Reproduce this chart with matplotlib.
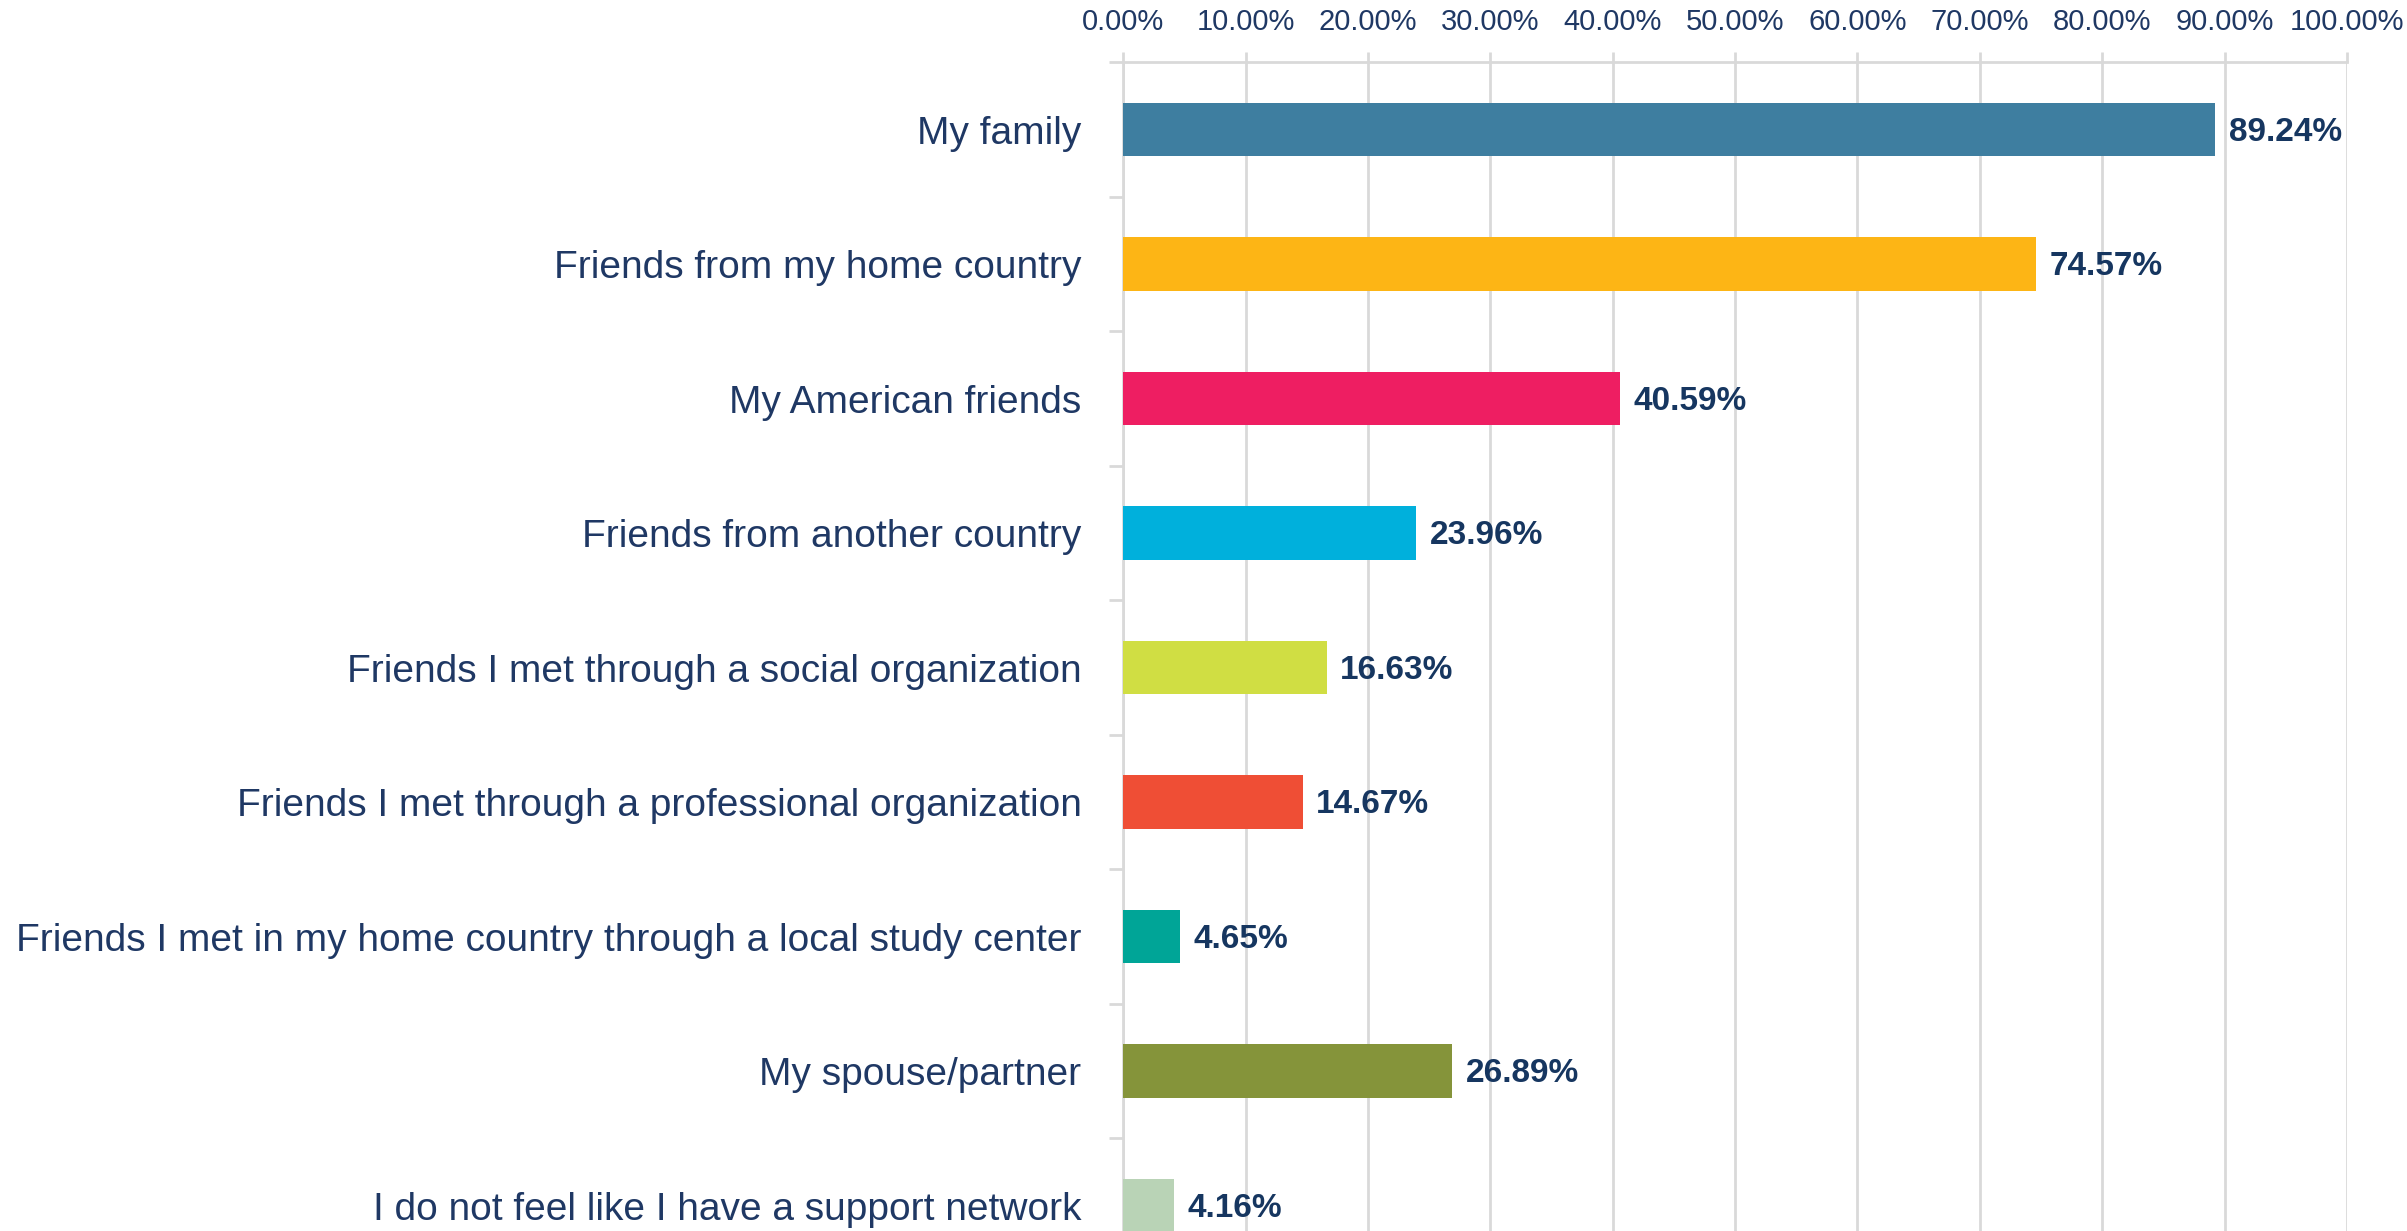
import matplotlib
matplotlib.use("Agg")
import matplotlib.pyplot as plt
from matplotlib.ticker import FuncFormatter, FixedLocator

plt.rcParams['font.family'] = ['Liberation Sans Narrow', 'Liberation Sans', 'DejaVu Sans']

# data, top to bottom as in the chart
categories = [
    "My family",
    "Friends from my home country",
    "My American friends",
    "Friends from another country",
    "Friends I met through a social organization",
    "Friends I met through a professional organization",
    "Friends I met in my home country through a local study center",
    "My spouse/partner",
    "I do not feel like I have a support network",
]
values = [89.24, 74.57, 40.59, 23.96, 16.63, 14.67, 4.65, 26.89, 4.16]
colors = ["#3E7EA0", "#FDB515", "#EE1E62", "#00B0DC", "#D0DE43",
          "#EF4E35", "#00A597", "#85943A", "#B9D3B6"]
xticks = list(range(0, 101, 10))

NAVY = "#1F3864"
GRID = "#D9D9D9"

fig = plt.figure(figsize=(24.07, 12.31), dpi=100)
# axes runs a bit below the figure edge, the last row is cut as in the reference
ax = fig.add_axes([0.4666, -0.034, 0.5085, 0.9834])

ypos = list(range(len(categories)))
ax.barh(ypos, values, height=0.40, color=colors, zorder=3)

for y, v in zip(ypos, values):
    ax.text(v + 1.1, y + 0.02, f"{v:.2f}%", va="center", ha="left",
            fontsize=24, fontweight="bold", color="#163660", zorder=4)

ax.set_ylim(len(categories) - 0.5, -0.5)
ax.set_xlim(0, 100)

ax.set_yticks(ypos)
ax.set_yticklabels(categories)
ax.yaxis.set_minor_locator(FixedLocator([i - 0.5 for i in range(len(categories) + 1)]))
ax.tick_params(axis="y", which="major", length=0, pad=30, labelsize=28, labelcolor=NAVY)
ax.tick_params(axis="y", which="minor", length=10, width=2, color=GRID)

ax.xaxis.tick_top()
ax.set_xticks(xticks)
ax.xaxis.set_major_formatter(FuncFormatter(lambda x, p: f"{x:.2f}%"))
ax.tick_params(axis="x", length=7, width=2, color=GRID, pad=12,
               labelsize=21, labelcolor=NAVY)
ax.grid(axis="x", color=GRID, linewidth=2, zorder=0)
ax.set_axisbelow(True)

for s in ["right", "bottom"]:
    ax.spines[s].set_visible(False)
for s in ["top", "left"]:
    ax.spines[s].set_color(GRID)
    ax.spines[s].set_linewidth(2)

fig.savefig("out.png", dpi=100)
